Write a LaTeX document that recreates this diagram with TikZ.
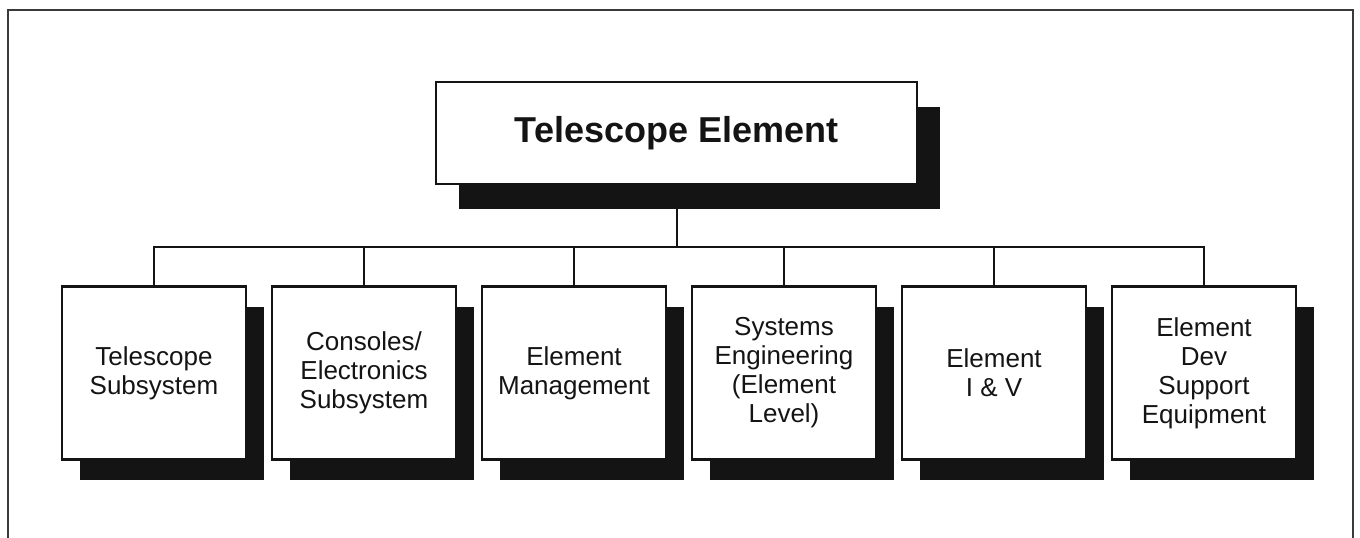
\documentclass[tikz,border=0pt]{standalone}
\usepackage{fontspec}
\setsansfont{Liberation Sans}
\usepackage{xcolor}
\usepackage{tikz}
\usetikzlibrary{positioning,shadows}
\definecolor{teInk}{HTML}{141414}
\definecolor{teFrame}{HTML}{3A3A3A}
\tikzset{
  te diagram/.style={font=\sffamily, text=teInk, x=1pt, y=-1pt},
  te card/.style={draw=teInk, fill=white, line width=2.6pt, align=center,
    inner sep=4pt},
  te box/.style={te card, minimum width=184pt, minimum height=173pt,
    font=\sffamily\fontsize{26}{29}\selectfont,
    drop shadow={shadow xshift=18pt, shadow yshift=-20pt, fill=teInk, opacity=1}},
  te top box/.style={te card, minimum width=481pt, minimum height=102pt,
    font=\sffamily\bfseries\fontsize{36}{40}\selectfont,
    drop shadow={shadow xshift=23pt, shadow yshift=-25pt, fill=teInk, opacity=1}},
  te line/.style={draw=teInk, line width=2pt},
  te frame/.style={draw=teFrame, line width=2.8pt}
}
\begin{document}
\begin{tikzpicture}[te diagram]
\useasboundingbox (0,0) rectangle (1360,538);
\draw[te frame] (8,560) -- (8,10) -- (1353,10) -- (1353,560);
\node[te top box] (top) at (676.5,133) {Telescope Element};
\node[te box] (sub1) at (154,373) {Telescope\\Subsystem};
\node[te box] (sub2) at (364,373) {Consoles/\\Electronics\\Subsystem};
\node[te box] (sub3) at (574,373) {Element\\Management};
\node[te box] (sub4) at (784,373) {Systems\\Engineering\\(Element\\Level)};
\node[te box] (sub5) at (994,373) {Element\\I \& V};
\node[te box] (sub6) at (1204,373) {Element\\Dev\\Support\\Equipment};
\path (top.south) ++(0,62) coordinate (hub);
\draw[te line] (top.south) -- (hub);
\draw[te line] (sub1.north) |- (hub) -| (sub6.north);
\draw[te line] (sub2.north) -- (sub2.north |- hub);
\draw[te line] (sub3.north) -- (sub3.north |- hub);
\draw[te line] (sub4.north) -- (sub4.north |- hub);
\draw[te line] (sub5.north) -- (sub5.north |- hub);
\end{tikzpicture}
\end{document}
